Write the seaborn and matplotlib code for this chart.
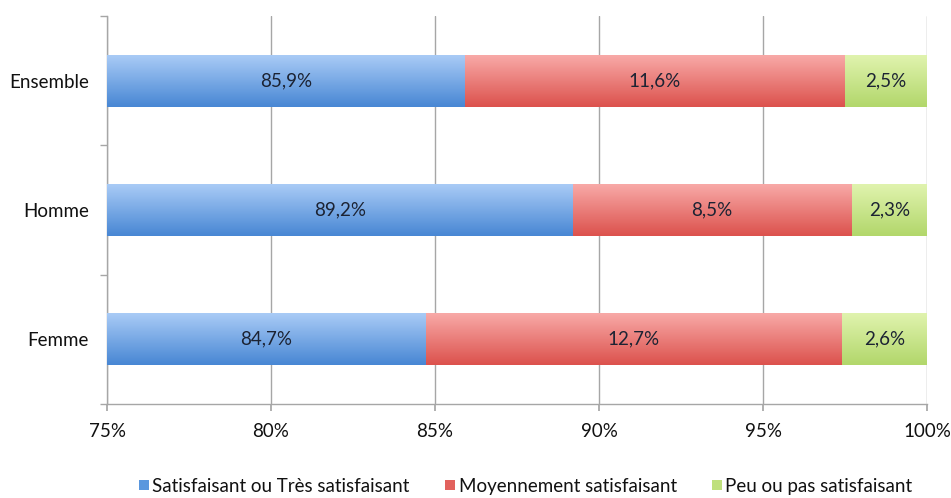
import numpy as np
import pandas as pd
import matplotlib
matplotlib.use("Agg")
import matplotlib.pyplot as plt
import seaborn as sns
from matplotlib.colors import LinearSegmentedColormap
from matplotlib.patches import Patch

categories = ["Ensemble", "Homme", "Femme"]
series_names = ["Satisfaisant ou Très satisfaisant", "Moyennement satisfaisant", "Peu ou pas satisfaisant"]
satisfait = [85.9, 89.2, 84.7]
moyen = [11.6, 8.5, 12.7]
peu = [2.5, 2.3, 2.6]
x_ticks = [75, 80, 85, 90, 95, 100]

# top / bottom colours of each series gradient
grad_top = ["#a9cbf6", "#f8a9a7", "#e0f3ae"]
grad_bottom = ["#4887d4", "#dc524d", "#b2d76b"]
legend_colors = ["#5a97de", "#e2625d", "#bfe07c"]

sns.set_theme(style="white")
plt.rcParams["font.family"] = ["Lato", "DejaVu Sans"]
FS = 13.5

fig = plt.figure(figsize=(9.51, 4.98), dpi=100)
ax = fig.add_axes([107 / 951, (498 - 404) / 498, 820 / 951, (404 - 16) / 498])

values = [satisfait, moyen, peu]
cum = np.cumsum(np.array(values), axis=0)
df = pd.DataFrame({"cat": categories})

# draw cumulative layers from the widest to the narrowest so each segment shows
patch_groups = []
for i in [2, 1, 0]:
    df["v"] = cum[i]
    n_before = len(ax.patches)
    sns.barplot(data=df, x="v", y="cat", orient="h", width=0.4,
                color=legend_colors[i], ax=ax)
    patch_groups.append((i, ax.patches[n_before:]))

# replace flat fills with vertical gradients clipped to each bar
for i, patches in patch_groups:
    cmap = LinearSegmentedColormap.from_list(f"g{i}", [grad_top[i], grad_bottom[i]])
    grad = np.linspace(0, 1, 64).reshape(-1, 1)
    for p in patches:
        p.set_facecolor("none")
        p.set_edgecolor("none")
        x0, y0 = p.get_x(), p.get_y()
        w, h = p.get_width(), p.get_height()
        im = ax.imshow(grad, cmap=cmap, aspect="auto", interpolation="bilinear",
                       extent=[max(x0, 75), x0 + w, y0 + h, y0],
                       zorder=3 + (2 - i))
        im.set_clip_path(p)
ax.set_xlim(75, 100)
ax.set_ylim(2.5, -0.5)

# value labels centred in the visible part of each segment
for j in range(len(categories)):
    left = 75
    for i in range(3):
        right = cum[i][j]
        txt = f"{values[i][j]:.1f}%".replace(".", ",")
        ax.text((max(left, 75) + right) / 2, j, txt, ha="center", va="center",
                fontsize=FS, color="#1c2333", zorder=10)
        left = right

grid_c = "#a6a6a6"
ax.set_xticks(x_ticks)
ax.set_xticklabels([f"{t}%" for t in x_ticks])
ax.xaxis.grid(True, color=grid_c, linewidth=1)
ax.yaxis.grid(False)
ax.set_axisbelow(True)
ax.set_yticks([0, 1, 2])
ax.set_yticks([-0.5, 0.5, 1.5, 2.5], minor=True)
ax.set_xlabel("")
ax.set_ylabel("")
for side in ["top", "right"]:
    ax.spines[side].set_visible(False)
for side in ["left", "bottom"]:
    ax.spines[side].set_color(grid_c)
    ax.spines[side].set_linewidth(1)
ax.tick_params(axis="x", which="major", bottom=True, length=5, color=grid_c,
               labelsize=FS, labelcolor="#111111", pad=9)
ax.tick_params(axis="y", which="major", left=False, length=0, labelsize=FS,
               labelcolor="#111111", pad=13)
ax.tick_params(axis="y", which="minor", left=True, length=5, color=grid_c)

handles = [Patch(facecolor=c, edgecolor="none") for c in legend_colors]
fig.legend(handles, series_names, loc="lower center", bbox_to_anchor=(0.553, -0.027),
           ncol=3, frameon=False, fontsize=FS, handlelength=0.5, handleheight=0.5,
           handletextpad=0.2, columnspacing=1.9, labelcolor="#111111")

fig.savefig("out.png", dpi=100)
